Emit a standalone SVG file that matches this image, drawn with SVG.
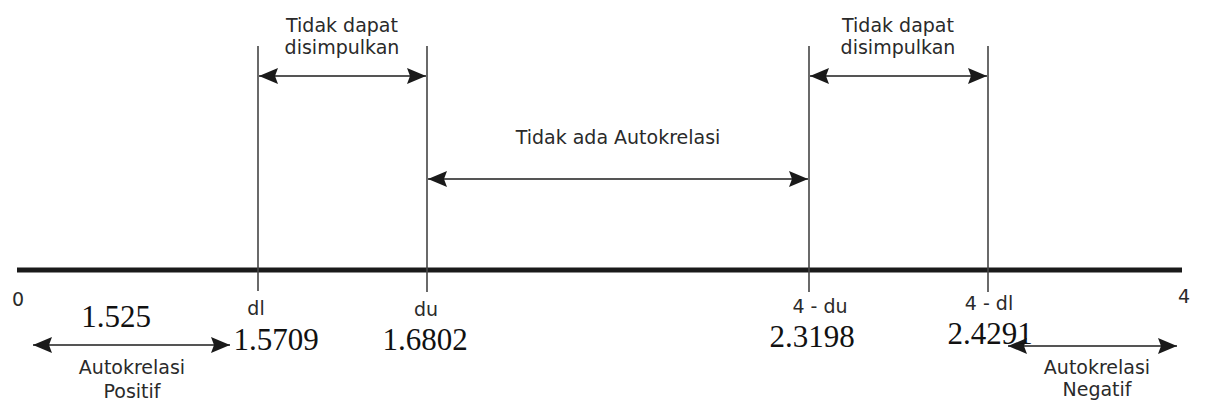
<svg xmlns="http://www.w3.org/2000/svg" width="1205" height="405" viewBox="0 0 1205 405">
<style>
.lbl{font-family:"DejaVu Sans","Verdana",sans-serif;font-size:19px;fill:#2a2a2a;text-anchor:middle}
.num{font-family:"Liberation Serif","Times New Roman",serif;font-size:31px;fill:#111;text-anchor:middle}
.vline{stroke:#444;stroke-width:1.6;fill:none}
.arr{stroke:#555;stroke-width:2;fill:none;marker-start:url(#ah);marker-end:url(#ah)}
</style>
<defs>
<marker id="ah" markerUnits="userSpaceOnUse" markerWidth="20" markerHeight="16" refX="19" refY="8" orient="auto-start-reverse">
<path d="M0,0 L19,8 L0,16 L3,8 z" fill="#1a1a1a"/>
</marker>
</defs>
<rect width="1205" height="405" fill="#fff"/>
<g id="axis">
<line x1="17" y1="270" x2="1182" y2="270" stroke="#1a1a1a" stroke-width="5"/>
<line class="vline" x1="258" y1="46" x2="258" y2="291"/>
<line class="vline" x1="427" y1="46" x2="427" y2="292"/>
<line class="vline" x1="809" y1="46" x2="809" y2="292"/>
<line class="vline" x1="988" y1="46" x2="988" y2="292"/>
</g>
<g id="connectors">
<line class="arr" x1="259" y1="76" x2="426" y2="76"/>
<line class="arr" x1="810" y1="76" x2="987" y2="76"/>
<line class="arr" x1="428" y1="179" x2="808" y2="179"/>
<line class="arr" x1="33" y1="345" x2="230" y2="345"/>
<line class="arr" x1="1008" y1="346" x2="1177" y2="346"/>
</g>
<g id="region-dl-du">
<text class="lbl" x="342" y="32">Tidak dapat</text>
<text class="lbl" x="342" y="54">disimpulkan</text>
</g>
<g id="region-4du-4dl">
<text class="lbl" x="898" y="32">Tidak dapat</text>
<text class="lbl" x="898" y="54">disimpulkan</text>
</g>
<g id="region-none">
<text class="lbl" x="618" y="144">Tidak ada Autokrelasi</text>
</g>
<g id="region-pos">
<text class="lbl" x="132" y="374">Autokrelasi</text>
<text class="lbl" x="132" y="398">Positif</text>
</g>
<g id="region-neg">
<text class="lbl" x="1097" y="374">Autokrelasi</text>
<text class="lbl" x="1097" y="396">Negatif</text>
</g>
<g id="tick-0"><text class="lbl" x="18" y="306">0</text><text class="num" x="116" y="327">1.525</text></g>
<g id="tick-dl"><text class="lbl" x="256" y="315">dl</text><text class="num" x="276" y="350">1.5709</text></g>
<g id="tick-du"><text class="lbl" x="426" y="316">du</text><text class="num" x="425" y="350">1.6802</text></g>
<g id="tick-4du"><text class="lbl" x="820" y="313">4 - du</text><text class="num" x="812" y="347">2.3198</text></g>
<g id="tick-4dl"><text class="lbl" x="989" y="310">4 - dl</text><text class="num" x="990" y="344">2.4291</text></g>
<g id="tick-4"><text class="lbl" x="1184" y="303">4</text></g>
</svg>
